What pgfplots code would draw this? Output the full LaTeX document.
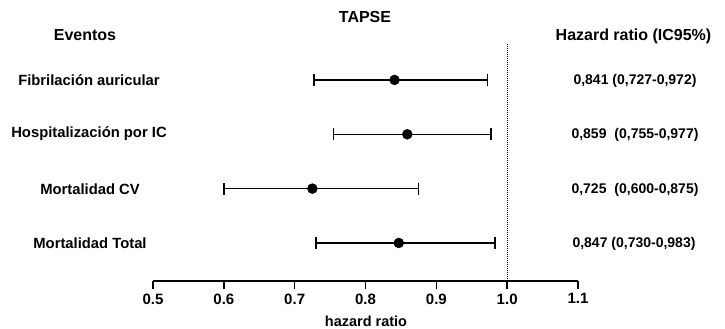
\documentclass[border=0pt]{standalone}
\usepackage{pgfplots}
\pgfplotsset{compat=1.18}
\usepackage{fontspec}
\setmainfont{Liberation Sans}
\begin{document}
\begin{tikzpicture}[x=1pt,y=1pt]
\path[use as bounding box] (0,0) rectangle (725,329);
\begin{axis}[
  at={(153pt,48pt)}, anchor=south west,
  scale only axis, width=425pt, height=238pt,
  xmin=0.5, xmax=1.1, ymin=0.3, ymax=4.68,
  axis x line*=bottom, axis y line=none,
  x axis line style={line width=1.6pt,-},
  xtick={0.5,0.6,0.7,0.8,0.9,1.0,1.1},
  xticklabels={0.5,0.6,0.7,0.8,0.9,1.0,1.1},
  xticklabel style={font=\fontsize{15}{15}\selectfont\bfseries, yshift=-1pt},
  tick style={line width=1.6pt, black},
  major tick length=8pt, tick align=outside,
  clip=false,
]
\addplot[black, only marks, mark=*, mark size=5pt,
  error bars/.cd, x dir=both, x explicit,
  error mark=|,
  error bar style={line width=1.5pt},
  error mark options={mark size=6pt, line width=1.5pt}]
coordinates {
  (0.841,4) += (0.131,0) -= (0.114,0)
  (0.859,3) += (0.118,0) -= (0.104,0)
  (0.725,2) += (0.150,0) -= (0.125,0)
  (0.847,1) += (0.136,0) -= (0.117,0)
};
\draw[black, line width=1pt, dash pattern=on 1pt off 1pt] (axis cs:1,0.3) -- (axis cs:1,4.68);
\end{axis}
\node[font=\fontsize{16}{16}\selectfont\bfseries] at (365,312) {TAPSE};
\node[font=\fontsize{16}{16}\selectfont\bfseries] at (85,294) {Eventos};
\node[font=\fontsize{16}{16}\selectfont\bfseries] at (633.5,293) {Hazard ratio (IC95\%)};
\begin{scope}[every node/.style={font=\fontsize{14.8}{14.8}\selectfont\bfseries}]
\node at (89,249) {Fibrilación auricular};
\node at (89,195) {Hospitalización por IC};
\node at (90,140) {Mortalidad CV};
\node at (90,86) {Mortalidad Total};
\end{scope}
\begin{scope}[every node/.style={font=\fontsize{14}{14}\selectfont\bfseries}]
\node at (635,248) {0,841 (0,727-0,972)};
\node at (635,194) {0,859\hspace{4pt} (0,755-0,977)};
\node at (635,139) {0,725\hspace{4pt} (0,600-0,875)};
\node at (634,85) {0,847 (0,730-0,983)};
\end{scope}
\node[font=\fontsize{14.5}{14.5}\selectfont\bfseries] at (366,8) {hazard ratio};
\end{tikzpicture}
\end{document}
